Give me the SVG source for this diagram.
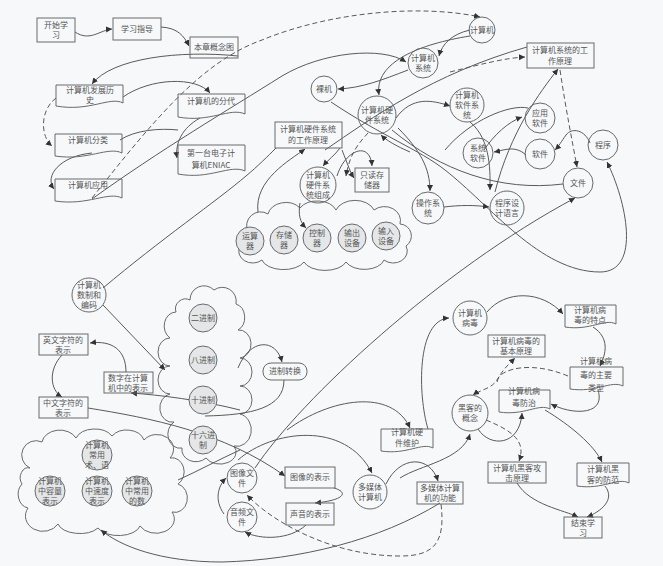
<svg xmlns="http://www.w3.org/2000/svg" width="663" height="566" viewBox="0 0 663 566">
<style>
.bg{fill:#f6f8fa}
.n rect,.n path,.n circle{fill:none;stroke:#6a6a6a;stroke-width:1}
.n .cf{fill:#e4e6e8}
.cloud{fill:#d9dcdf;stroke:#6a6a6a;stroke-width:1}
text{font-family:"Noto Sans CJK SC","Noto Sans",sans-serif;font-size:8px;fill:#555;text-anchor:middle}
.e path{fill:none;stroke:#5a5a5a;stroke-width:1;marker-end:url(#a)}
.e path.na{marker-end:none}
.e path.d{stroke-dasharray:5,3}
</style>
<defs>
<marker id="a" markerUnits="userSpaceOnUse" markerWidth="7" markerHeight="7" refX="6" refY="3.5" orient="auto"><path d="M0,0.5 L6,3.5 L0,6.5 Z" fill="#333"/></marker>
</defs>
<rect class="bg" x="0" y="0" width="663" height="566"/>

<!-- clouds -->
<g id="cloud-hw" class="n">
<path class="cloud" d="M248,232 a14,14 0 0 1 20,-18 a18,14 0 0 1 32,-6 a20,14 0 0 1 36,2 a20,14 0 0 1 38,0 a16,14 0 0 1 26,14 a12,12 0 0 1 6,22 a14,12 0 0 1 -22,14 a20,12 0 0 1 -38,2 a22,12 0 0 1 -42,0 a22,12 0 0 1 -42,-2 a14,12 0 0 1 -22,-14 a10,10 0 0 1 8,-14 Z"/>
</g>
<g id="cloud-base" class="n">
<path class="cloud" d="M190,300 a14,14 0 0 1 24,-10 a14,14 0 0 1 22,14 a12,14 0 0 1 2,26 a12,14 0 0 1 2,28 a12,14 0 0 1 0,28 a12,14 0 0 1 0,28 a14,16 0 0 1 -6,32 a16,12 0 0 1 -28,12 a14,12 0 0 1 -24,-10 a12,14 0 0 1 -8,-26 a12,14 0 0 1 -4,-28 a12,14 0 0 1 0,-28 a12,14 0 0 1 0,-28 a12,14 0 0 1 6,-26 a10,10 0 0 1 14,-12 Z"/>
</g>
<g id="cloud-terms" class="n">
<path class="cloud" d="M30,468 a14,14 0 0 1 12,-26 a18,14 0 0 1 34,-4 a20,14 0 0 1 36,-2 a18,14 0 0 1 32,4 a16,14 0 0 1 26,18 a12,14 0 0 1 8,26 a12,14 0 0 1 -6,28 a18,14 0 0 1 -32,14 a22,12 0 0 1 -42,2 a22,12 0 0 1 -40,-4 a16,14 0 0 1 -30,-16 a12,14 0 0 1 -6,-24 a8,10 0 0 1 8,-16 Z"/>
</g>

<!-- connectors -->
<g id="edges" class="e">
<path d="M75,32 C90,42 100,30 112,29"/>
<path d="M161,27 C178,28 184,36 189,46"/>
<path d="M238,56 C180,50 112,58 92,84"/>
<path d="M123,97 C150,78 196,76 210,93"/>
<path class="d" d="M56,98 C40,110 40,136 52,146"/>
<path d="M92,153 C60,156 44,176 54,189"/>
<path class="na" d="M120,140 C135,130 160,128 178,130"/>
<path d="M200,118 C182,128 175,143 177,158"/>
<path class="d" d="M92,198 C150,125 200,62 262,40 C330,12 420,4 480,17"/>
<path d="M92,199 C160,150 228,110 282,76 C322,52 382,46 406,62"/>
<path d="M408,70 C382,80 362,88 338,89"/>
<path d="M470,30 C452,34 442,44 439,56"/>
<path d="M470,36 C420,44 374,62 379,95"/>
<path d="M396,118 C412,96 432,100 450,106"/>
<path class="na" d="M325,150 C372,118 432,74 527,47"/>
<path class="d" d="M450,72 C482,64 505,58 525,57"/>
<path d="M495,192 C510,132 540,92 558,69"/>
<path class="d" d="M560,70 C566,110 572,140 577,167"/>
<path d="M526,155 C515,145 505,150 494,152"/>
<path d="M590,143 C585,130 572,127 566,135 C561,142 559,146 555,150"/>
<path d="M331,102 C380,135 420,150 445,170 C490,205 540,272 600,272 C642,272 626,200 607,162"/>
<path d="M444,207 C460,205 475,205 489,207"/>
<path class="na" d="M392,130 C440,170 500,192 563,184"/>
<path d="M398,128 C420,150 430,168 430,191"/>
<path class="na" d="M445,150 C470,120 510,104 528,108"/>
<path d="M484,150 C494,135 508,122 522,117"/>
<path d="M470,122 C492,140 490,175 490,190"/>
<path d="M255,468 C300,400 440,270 575,198"/>
<path class="na" d="M103,288 C160,240 218,200 246,176 C258,166 268,156 276,148"/>
<path d="M103,305 L165,370"/>
<path d="M126,372 C126,350 112,340 90,343"/>
<path d="M62,355 C48,370 50,390 62,397"/>
<path d="M240,410 C200,400 160,395 131,393"/>
<path d="M88,408 C150,418 224,432 285,476"/>
<path d="M238,368 C250,338 276,338 282,362"/>
<path class="na" d="M284,380 C284,408 252,415 205,416"/>
<path d="M287,430 C330,398 392,388 410,428"/>
<path d="M428,429 C418,396 416,320 449,318"/>
<path d="M487,312 C505,290 542,290 563,314"/>
<path d="M593,327 C610,338 606,354 600,366"/>
<path d="M598,390 C606,416 572,415 551,404"/>
<path class="d" d="M568,376 C532,361 502,368 497,380 C491,389 480,390 473,395"/>
<path class="d" d="M497,382 C500,372 508,365 515,358"/>
<path class="d" d="M486,420 C510,430 527,440 519,461"/>
<path d="M478,429 C490,448 520,446 522,413"/>
<path d="M400,478 C420,465 462,460 470,434"/>
<path d="M545,410 C570,425 594,445 602,462"/>
<path d="M517,483 C530,505 564,510 578,517"/>
<path d="M605,486 C616,500 600,512 587,517"/>
<path d="M386,484 C400,455 430,455 438,481"/>
<path d="M440,503 C380,540 300,560 222,562 C160,562 120,546 101,530"/>
<path class="d" d="M441,504 C446,545 432,556 400,556 C330,556 270,520 247,495"/>
<path d="M334,488 C348,492 346,500 315,503"/>
<path d="M306,525 C290,540 260,540 245,532"/>
<path d="M224,514 C214,500 218,486 226,478"/>
<path d="M238,460 C272,430 345,420 372,473"/>
<path class="na" d="M178,480 C200,470 218,460 240,450"/>
<path d="M258,212 C254,180 290,160 305,149"/>
<path d="M340,148 C335,155 328,160 323,166"/>
<path class="d" d="M368,133 C360,142 350,152 346,176"/>
<path d="M337,176 C345,150 370,140 372,166"/>
<path d="M342,150 C348,165 350,172 354,178"/>
<path d="M300,203 C298,215 300,222 306,228"/>
<path d="M410,152 C396,146 386,140 381,135"/>
</g>

<!-- rect / document nodes -->
<g id="n-start" class="n"><rect x="37" y="18" width="38" height="24"/><text x="56" y="28">开始学</text><text x="56" y="38">习</text></g>
<g id="n-guide" class="n"><rect x="113" y="18" width="48" height="22"/><text x="137" y="32">学习指导</text></g>
<g id="n-map" class="n"><rect x="190" y="37" width="48" height="21"/><text x="214" y="50">本章概念图</text></g>
<g id="n-history" class="n"><path d="M56,85H123V103C110,96 90,112 56,106Z"/><text x="90" y="93">计算机发展历</text><text x="90" y="103">史</text></g>
<g id="n-gen" class="n"><path d="M178,94H245V114C230,107 210,123 178,117Z"/><text x="211" y="104">计算机的分代</text></g>
<g id="n-class" class="n"><path d="M55,134H122V153C108,146 88,161 55,156Z"/><text x="88" y="143">计算机分类</text></g>
<g id="n-eniac" class="n"><path d="M178,145H245V171C230,164 210,180 178,174Z"/><text x="211" y="156">第一台电子计</text><text x="211" y="168">算机ENIAC</text></g>
<g id="n-app" class="n"><path d="M55,179H122V198C108,191 88,206 55,201Z"/><text x="88" y="188">计算机应用</text></g>
<g id="n-hwprin" class="n"><rect x="275" y="122" width="67" height="26"/><text x="308" y="132">计算机硬件系统</text><text x="308" y="143">的工作原理</text></g>
<g id="n-rom" class="n"><rect x="355" y="168" width="34" height="24"/><text x="372" y="178">只读存</text><text x="372" y="188">储器</text></g>
<g id="n-sysprin" class="n"><rect x="527" y="43" width="67" height="25"/><text x="560" y="53">计算机系统的工</text><text x="560" y="64">作原理</text></g>
<g id="n-vfeat" class="n"><path d="M565,305H616V324C605,318 590,331 565,327Z"/><text x="590" y="313">计算机病</text><text x="590" y="323">毒的特点</text></g>
<g id="n-vprin" class="n"><rect x="488" y="335" width="57" height="22"/><text x="516" y="344">计算机病毒的</text><text x="516" y="354">基本原理</text></g>
<g id="n-vtype" class="n"><path d="M570,367H623V386C611,380 596,393 570,389Z"/><text x="596" y="364">计算机病</text><text x="596" y="378">毒的主要</text><text x="596" y="391">类型</text></g>
<g id="n-vprev" class="n"><path d="M499,390H550V409C539,403 524,416 499,412Z"/><text x="524" y="394">计算机病</text><text x="524" y="406">毒防治</text></g>
<g id="n-hwm" class="n"><path d="M381,429H433V448C422,442 407,455 381,451Z"/><text x="407" y="435">计算机硬</text><text x="407" y="446">件维护</text></g>
<g id="n-hattack" class="n"><rect x="488" y="462" width="58" height="21"/><text x="517" y="471">计算机黑客攻</text><text x="517" y="481">击原理</text></g>
<g id="n-hdef" class="n"><path d="M577,463H629V483C618,477 603,490 577,486Z"/><text x="603" y="472">计算机黑</text><text x="603" y="483">客的防范</text></g>
<g id="n-end" class="n"><rect x="564" y="517" width="38" height="21"/><text x="583" y="526">结束学</text><text x="583" y="536">习</text></g>
<g id="n-mmfunc" class="n"><rect x="417" y="482" width="46" height="22"/><text x="440" y="491">多媒体计算</text><text x="440" y="501">机的功能</text></g>
<g id="n-img" class="n"><rect x="285" y="467" width="50" height="21"/><text x="310" y="480">图像的表示</text></g>
<g id="n-snd" class="n"><rect x="286" y="503" width="48" height="22"/><text x="310" y="517">声音的表示</text></g>
<g id="n-en" class="n"><rect x="39" y="334" width="49" height="21"/><text x="63" y="343">英文字符的</text><text x="63" y="353">表示</text></g>
<g id="n-cn" class="n"><rect x="39" y="397" width="49" height="21"/><text x="63" y="406">中文字符的</text><text x="63" y="416">表示</text></g>
<g id="n-num" class="n"><rect x="104" y="372" width="49" height="21"/><text x="128" y="381">数字在计算</text><text x="128" y="391">机中的表示</text></g>
<g id="n-conv" class="n"><rect x="263" y="363" width="44" height="17" rx="8"/><text x="285" y="374">进制转换</text></g>

<!-- circle nodes -->
<g id="c-computer" class="n"><circle cx="482" cy="30" r="13"/><text x="482" y="33">计算机</text></g>
<g id="c-sys" class="n"><circle cx="423" cy="63" r="15"/><text x="423" y="61">计算机</text><text x="423" y="71">系统</text></g>
<g id="c-bare" class="n"><circle cx="324" cy="89" r="13"/><text x="324" y="92">裸机</text></g>
<g id="c-hw" class="n"><circle cx="377" cy="115" r="19"/><text x="377" y="113">计算机硬</text><text x="377" y="123">件系统</text></g>
<g id="c-sw" class="n"><circle cx="467" cy="105" r="17"/><text x="467" y="98">计算机</text><text x="467" y="108">软件系</text><text x="467" y="118">统</text></g>
<g id="c-appsw" class="n"><circle cx="540" cy="118" r="15"/><text x="540" y="116">应用</text><text x="540" y="126">软件</text></g>
<g id="c-syssw" class="n"><circle cx="478" cy="153" r="15"/><text x="478" y="151">系统</text><text x="478" y="161">软件</text></g>
<g id="c-soft" class="n"><circle cx="540" cy="154" r="15"/><text x="540" y="157">软件</text></g>
<g id="c-prog" class="n"><circle cx="603" cy="145" r="15"/><text x="603" y="148">程序</text></g>
<g id="c-file" class="n"><circle cx="578" cy="183" r="15"/><text x="578" y="186">文件</text></g>
<g id="c-lang" class="n"><circle cx="507" cy="208" r="17"/><text x="507" y="206">程序设</text><text x="507" y="216">计语言</text></g>
<g id="c-os" class="n"><circle cx="428" cy="208" r="16"/><text x="428" y="206">操作系</text><text x="428" y="216">统</text></g>
<g id="c-hwcomp" class="n"><circle cx="318" cy="185" r="18"/><text x="318" y="178">计算机</text><text x="318" y="188">硬件系</text><text x="318" y="198">统组成</text></g>
<g id="c-alu" class="n"><circle class="cf" cx="250" cy="241" r="14"/><text x="250" y="239">运算</text><text x="250" y="249">器</text></g>
<g id="c-mem" class="n"><circle class="cf" cx="284" cy="240" r="14"/><text x="284" y="238">存储</text><text x="284" y="248">器</text></g>
<g id="c-ctrl" class="n"><circle class="cf" cx="317" cy="238" r="14"/><text x="317" y="236">控制</text><text x="317" y="246">器</text></g>
<g id="c-out" class="n"><circle class="cf" cx="352" cy="238" r="14"/><text x="352" y="236">输出</text><text x="352" y="246">设备</text></g>
<g id="c-in" class="n"><circle class="cf" cx="386" cy="236" r="14"/><text x="386" y="234">输入</text><text x="386" y="244">设备</text></g>
<g id="c-numsys" class="n"><circle cx="89" cy="295" r="17"/><text x="89" y="288">计算机</text><text x="89" y="298">数制和</text><text x="89" y="308">编码</text></g>
<g id="c-bin" class="n"><circle class="cf" cx="203" cy="318" r="14"/><text x="203" y="321">二进制</text></g>
<g id="c-oct" class="n"><circle class="cf" cx="203" cy="360" r="14"/><text x="203" y="363">八进制</text></g>
<g id="c-dec" class="n"><circle class="cf" cx="203" cy="400" r="14"/><text x="203" y="403">十进制</text></g>
<g id="c-hex" class="n"><circle class="cf" cx="203" cy="440" r="14"/><text x="203" y="438">十六进</text><text x="203" y="448">制</text></g>
<g id="c-terms" class="n"><circle class="cf" cx="97" cy="455" r="15"/><text x="97" y="448">计算机</text><text x="97" y="458">常用</text><text x="97" y="468">术、语</text></g>
<g id="c-cap" class="n"><circle class="cf" cx="50" cy="491" r="15"/><text x="50" y="484">计算机</text><text x="50" y="494">中容量</text><text x="50" y="504">表示</text></g>
<g id="c-speed" class="n"><circle class="cf" cx="97" cy="491" r="15"/><text x="97" y="484">计算机</text><text x="97" y="494">中速度</text><text x="97" y="504">表示</text></g>
<g id="c-common" class="n"><circle class="cf" cx="137" cy="491" r="15"/><text x="137" y="484">计算机</text><text x="137" y="494">中常用</text><text x="137" y="504">的数</text></g>
<g id="c-virus" class="n"><circle cx="470" cy="318" r="17"/><text x="470" y="316">计算机</text><text x="470" y="326">病毒</text></g>
<g id="c-hacker" class="n"><circle cx="470" cy="413" r="18"/><text x="470" y="411">黑客的</text><text x="470" y="421">概念</text></g>
<g id="c-mm" class="n"><circle cx="370" cy="492" r="17"/><text x="370" y="490">多媒体</text><text x="370" y="500">计算机</text></g>
<g id="c-imgfile" class="n"><circle cx="242" cy="478" r="15"/><text x="242" y="476">图像文</text><text x="242" y="486">件</text></g>
<g id="c-audfile" class="n"><circle cx="242" cy="517" r="15"/><text x="242" y="515">音频文</text><text x="242" y="525">件</text></g>
</svg>
